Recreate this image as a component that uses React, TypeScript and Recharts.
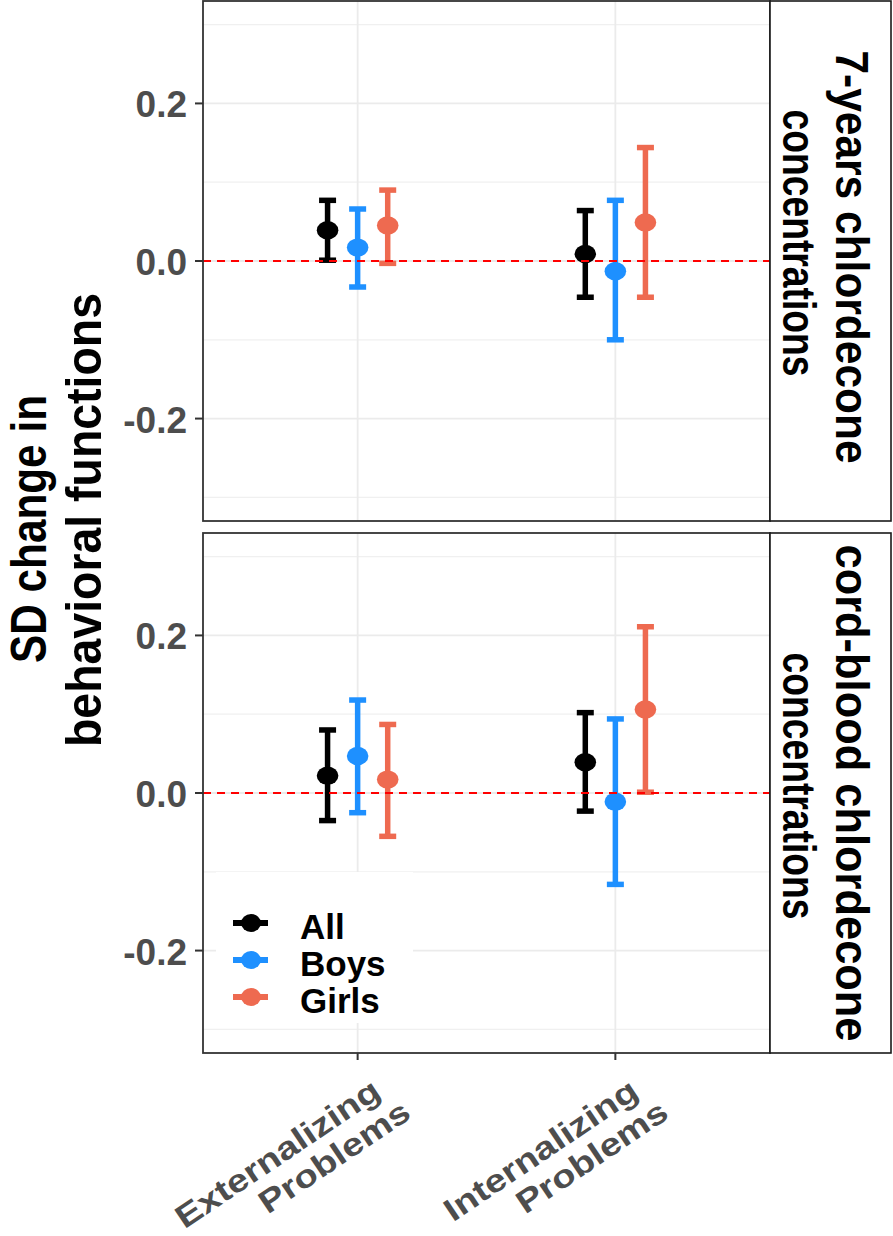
import {
  ComposedChart, Scatter, ErrorBar, XAxis, YAxis, ReferenceLine, Legend,
} from "recharts";

const categories = ["Externalizing\nProblems", "Internalizing\nProblems"];
const groups = ["All", "Boys", "Girls"];
const groupColors = ["#000000", "#1E90FF", "#EE6A50"];

// rows: [lower, estimate, upper] for Externalizing, Internalizing
const sevenYearsAll = [[0.001, 0.039, 0.077], [-0.046, 0.009, 0.064]];
const sevenYearsBoys = [[-0.033, 0.017, 0.066], [-0.1, -0.013, 0.077]];
const sevenYearsGirls = [[-0.003, 0.045, 0.09], [-0.046, 0.049, 0.144]];
const cordBloodAll = [[-0.035, 0.022, 0.08], [-0.023, 0.039, 0.102]];
const cordBloodBoys = [[-0.025, 0.047, 0.118], [-0.116, -0.011, 0.094]];
const cordBloodGirls = [[-0.055, 0.017, 0.087], [0.001, 0.106, 0.211]];

const facetLabels = [
  ["7-years chlordecone", "concentrations"],
  ["cord-blood chlordecone", "concentrations"],
];
const yTicks = [-0.2, 0, 0.2];
const yMinor = [-0.3, -0.1, 0.1, 0.3];
const yTitle = ["SD change in", "behavioral functions"];

const FONT = "'Liberation Sans', Arial, sans-serif";
const DODGE = 0.35 / 3;
const W = 893;

const toPoints = (rows: number[][], gi: number) =>
  rows.map(([lo, est, hi], ci) => ({
    x: ci + 1 + (gi - 1) * DODGE,
    y: est,
    err: [est - lo, hi - est],
  }));

const Dot = (props: any) => (
  <ellipse cx={props.cx} cy={props.cy} rx={10.8} ry={9.2} fill={props.fill} />
);

const YTick = (props: any) => {
  const { x, y, payload } = props;
  return (
    <text x={x} y={y + 14} textAnchor="end" fontFamily={FONT} fontWeight="bold"
      fontSize={37} fill="#4D4D4D">
      {Number(payload.value).toFixed(1)}
    </text>
  );
};

const XTick = (props: any) => {
  const { x, y, payload } = props;
  const lines = categories[Math.round(payload.value) - 1].split("\n");
  const ends = [[25, 36], [55, 57]];
  return (
    <g>
      {lines.map((t, i) => (
        <text key={i} x={0} y={0}
          transform={`translate(${x + ends[i][0]},${y + ends[i][1]}) rotate(-34) scale(1.2,1)`}
          textAnchor="end" fontFamily={FONT} fontWeight="bold" fontSize={32} fill="#4D4D4D">
          {t}
        </text>
      ))}
    </g>
  );
};

const LegendBox = (props: any) => {
  const payload = props.payload || [];
  return (
    <svg width={197} height={151} style={{ display: "block" }}>
      <rect x={0} y={0} width={197} height={151} fill="#FFFFFF" />
      {payload.map((p: any, i: number) => {
        const cy = 51 + i * 37;
        return (
          <g key={p.value}>
            <line x1={17} x2={52} y1={cy} y2={cy} stroke={p.color} strokeWidth={6} />
            <ellipse cx={35} cy={cy} rx={10} ry={9} fill={p.color} />
            <text x={84} y={cy + 16} fontFamily={FONT} fontWeight="bold" fontSize={35} fill="#000">
              {p.value}
            </text>
          </g>
        );
      })}
    </svg>
  );
};

function Facet({ series, top, height, bottomFacet }: { series: number[][][]; top: number; height: number; bottomFacet: boolean }) {
  return (
    <div style={{ position: "absolute", left: 0, top }}>
      <ComposedChart width={W} height={height} margin={{ top: 1, right: 123, bottom: 0, left: 0 }}>
        <XAxis type="number" dataKey="x" domain={[0.4, 2.6]} allowDataOverflow ticks={[1, 2]}
          interval={0} hide={!bottomFacet} height={183} tickSize={7} tickMargin={0}
          axisLine={false} tickLine={{ stroke: "#333333", strokeWidth: 2 }} tick={<XTick />} />
        <YAxis type="number" dataKey="y" domain={[-0.33, 0.33]} allowDataOverflow ticks={yTicks}
          interval={0} width={203} tickSize={8} tickMargin={8} axisLine={false}
          tickLine={{ stroke: "#333333", strokeWidth: 2 }} tick={<YTick />} />

        {/* panel grid */}
        {yMinor.map((v) => (
          <ReferenceLine key={`mn${v}`} y={v} stroke="#F0F0F0" strokeWidth={1.2} zIndex={-90} />
        ))}
        {yTicks.map((v) => (
          <ReferenceLine key={`mj${v}`} y={v} stroke="#EBEBEB" strokeWidth={1.8} zIndex={-90} />
        ))}
        {[1, 2].map((v) => (
          <ReferenceLine key={`vx${v}`} x={v} stroke="#EBEBEB" strokeWidth={1.8} zIndex={-90} />
        ))}

        {series.map((rows, gi) => (
          <Scatter key={groups[gi]} name={groups[gi]} data={toPoints(rows, gi)}
            fill={groupColors[gi]} shape={<Dot />} isAnimationActive={false}>
            <ErrorBar dataKey="err" direction="y" width={8.5} strokeWidth={5.5}
              stroke={groupColors[gi]} isAnimationActive={false} />
          </Scatter>
        ))}

        <ReferenceLine y={0} stroke="#FF0000" strokeWidth={1.8} strokeDasharray="8 6" zIndex={1000} />

        {bottomFacet && (
          <Legend layout="vertical" align="center" verticalAlign="middle"
            wrapperStyle={{ left: 216, top: 340, width: 197, height: 151 }}
            content={<LegendBox />} />
        )}
      </ComposedChart>
    </div>
  );
}

export default function App() {
  const panels = [
    { y: 1, labelCenters: [257, 243], lengths: [413, 267] },
    { y: 533, labelCenters: [793, 786], lengths: [497, 267] },
  ];
  return (
    <div style={{ position: "absolute", left: 0, top: 0, width: W, height: 1236, background: "#fff" }}>
      <Facet series={[sevenYearsAll, sevenYearsBoys, sevenYearsGirls]} top={0} height={521} bottomFacet={false} />
      <Facet series={[cordBloodAll, cordBloodBoys, cordBloodGirls]} top={532} height={704} bottomFacet />

      <svg width={W} height={1236} style={{ position: "absolute", left: 0, top: 0, pointerEvents: "none" }}>
        {panels.map((p, i) => (
          <g key={i}>
            <rect x={203} y={p.y} width={567} height={520} fill="none" stroke="#333333" strokeWidth={1.8} />
            <rect x={770} y={p.y} width={121} height={520} fill="#FFFFFF" stroke="#1A1A1A" strokeWidth={1.6} />
            {facetLabels[i].map((t, li) => {
              const bx = li === 0 ? 836 : 783;
              return (
                <text key={li} x={0} y={0} transform={`translate(${bx},${p.labelCenters[li]}) rotate(90)`}
                  textAnchor="middle" fontFamily={FONT} fontWeight="bold" fontSize={46}
                  textLength={p.lengths[li]} lengthAdjust="spacingAndGlyphs" fill="#000">
                  {t}
                </text>
              );
            })}
          </g>
        ))}
        {yTitle.map((t, li) => (
          <text key={li} x={0} y={0}
            transform={`translate(${li === 0 ? 46 : 101},${li === 0 ? 529 : 520}) rotate(-90)`}
            textAnchor="middle" fontFamily={FONT} fontWeight="bold" fontSize={50}
            textLength={li === 0 ? 268 : 454} lengthAdjust="spacingAndGlyphs" fill="#000">
            {t}
          </text>
        ))}
      </svg>
    </div>
  );
}
